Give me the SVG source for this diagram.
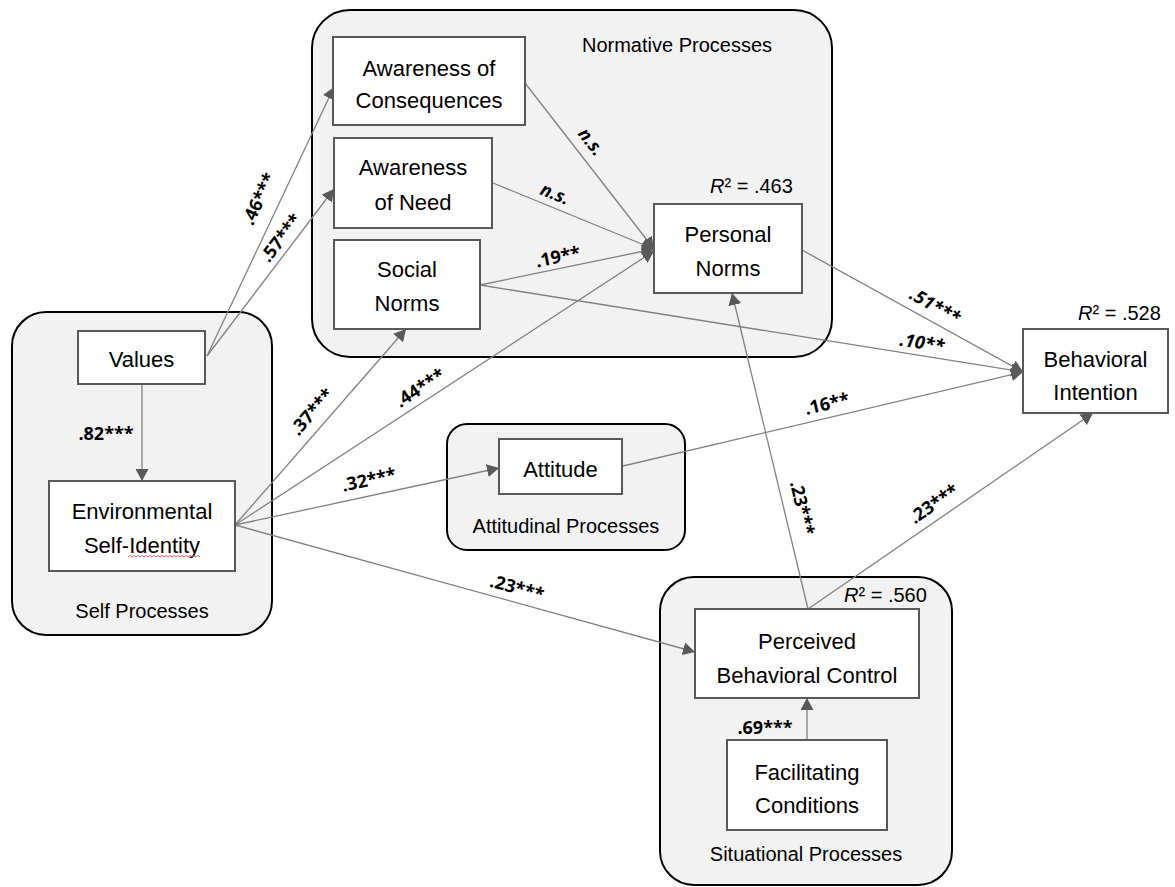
<svg xmlns="http://www.w3.org/2000/svg" width="1175" height="887" viewBox="0 0 1175 887">
<defs>
<marker id="ah" markerUnits="userSpaceOnUse" markerWidth="13" markerHeight="13" refX="12" refY="6.5" orient="auto">
<path d="M0,0 L12,6.5 L0,13 z" fill="#595959"/>
</marker>
<style>
.grp{fill:#f2f2f2;stroke:#000;stroke-width:2}
.node{fill:#fff;stroke:#595959;stroke-width:2}
.nt{font-family:"Liberation Sans",Arial,sans-serif;font-size:22px;fill:#000;text-anchor:middle}
.gt{font-family:"Liberation Sans",Arial,sans-serif;font-size:20px;fill:#000;text-anchor:middle}
.r2{font-family:"Liberation Sans",Arial,sans-serif;font-size:20px;fill:#000}
.cn{fill:none;stroke:#808080;stroke-width:1.3;marker-end:url(#ah)}
.lb{font-family:"Open Sans","Liberation Sans",sans-serif;font-size:18px;font-weight:bold;fill:#000;text-anchor:middle}
.it{font-style:italic}
</style>
</defs>
<rect width="1175" height="887" fill="#fff"/>

<g id="group-normative">
<rect class="grp" x="312" y="10" width="520" height="347" rx="38"/>
<text class="gt" x="677" y="52">Normative Processes</text>
</g>
<g id="group-self">
<rect class="grp" x="12" y="312" width="260" height="323" rx="34"/>
<text class="gt" x="142" y="618">Self Processes</text>
</g>
<g id="group-attitudinal">
<rect class="grp" x="447" y="424" width="238" height="126" rx="20"/>
<text class="gt" x="566" y="533">Attitudinal Processes</text>
</g>
<g id="group-situational">
<rect class="grp" x="660" y="577" width="292" height="308" rx="34"/>
<text class="gt" x="806" y="861">Situational Processes</text>
</g>

<g id="connectors">
<path class="cn" d="M207,356 L334,87"/>
<path class="cn" d="M207,356 L334,189"/>
<path class="cn" d="M142,384 L142,481"/>
<path class="cn" d="M525,83 L654,249"/>
<path class="cn" d="M493,183 L654,249"/>
<path class="cn" d="M480,285 L654,249"/>
<path class="cn" d="M480,285 L1023,372"/>
<path class="cn" d="M802,250 L1023,372"/>
<path class="cn" d="M623,466 L1023,372"/>
<path class="cn" d="M235,525 L406,329"/>
<path class="cn" d="M235,525 L654,251"/>
<path class="cn" d="M235,525 L499,468"/>
<path class="cn" d="M235,525 L695,652"/>
<path class="cn" d="M808,609 L732,293"/>
<path class="cn" d="M808,609 L1093,413"/>
<path class="cn" d="M807,740 L807,698"/>
</g>

<g id="node-aoc">
<rect class="node" x="333" y="37" width="192" height="88"/>
<text class="nt"><tspan x="429" y="76">Awareness of</tspan><tspan x="429" y="108">Consequences</tspan></text>
</g>
<g id="node-aon">
<rect class="node" x="334" y="138" width="158" height="90"/>
<text class="nt"><tspan x="413" y="175">Awareness</tspan><tspan x="413" y="210">of Need</tspan></text>
</g>
<g id="node-sn">
<rect class="node" x="334" y="240" width="146" height="89"/>
<text class="nt"><tspan x="407" y="277">Social</tspan><tspan x="407" y="311">Norms</tspan></text>
</g>
<g id="node-pn">
<rect class="node" x="654" y="204" width="148" height="89"/>
<text class="nt"><tspan x="728" y="242">Personal</tspan><tspan x="728" y="276">Norms</tspan></text>
</g>
<g id="node-bi">
<rect class="node" x="1023" y="329" width="145" height="84"/>
<text class="nt"><tspan x="1095.5" y="367">Behavioral</tspan><tspan x="1095.5" y="400">Intention</tspan></text>
</g>
<g id="node-values">
<rect class="node" x="78" y="331" width="127" height="53"/>
<text class="nt" x="141.5" y="367">Values</text>
</g>
<g id="node-esi">
<rect class="node" x="49" y="481" width="186" height="90"/>
<text class="nt"><tspan x="142" y="519">Environmental</tspan><tspan x="142" y="553">Self-Identity</tspan></text>
<path d="M128,557 l2,-1.5 l2,1.5 l2,-1.5 l2,1.5 l2,-1.5 l2,1.5 l2,-1.5 l2,1.5 l2,-1.5 l2,1.5 l2,-1.5 l2,1.5 l2,-1.5 l2,1.5 l2,-1.5 l2,1.5 l2,-1.5 l2,1.5 l2,-1.5 l2,1.5 l2,-1.5 l2,1.5 l2,-1.5 l2,1.5 l2,-1.5 l2,1.5 l2,-1.5 l2,1.5 l2,-1.5 l2,1.5 l2,-1.5 l2,1.5 l2,-1.5 l2,1.5 l2,-1.5 l2,1.5" fill="none" stroke="#e05050" stroke-width="0.9"/>
</g>
<g id="node-attitude">
<rect class="node" x="499" y="439" width="123" height="55"/>
<text class="nt" x="560.5" y="477">Attitude</text>
</g>
<g id="node-pbc">
<rect class="node" x="695" y="609" width="224" height="89"/>
<text class="nt"><tspan x="807" y="649">Perceived</tspan><tspan x="807" y="683">Behavioral Control</tspan></text>
</g>
<g id="node-fc">
<rect class="node" x="727" y="740" width="160" height="90"/>
<text class="nt"><tspan x="807" y="780">Facilitating</tspan><tspan x="807" y="813">Conditions</tspan></text>
</g>

<g id="r2-labels">
<text class="r2" x="710" y="193"><tspan class="it">R</tspan>² = .463</text>
<text class="r2" x="1078" y="320"><tspan class="it">R</tspan>² = .528</text>
<text class="r2" x="844" y="602"><tspan class="it">R</tspan>² = .560</text>
</g>

<g id="path-labels">
<text class="lb" transform="translate(259,199) rotate(-64.7)" y="6">.46***</text>
<text class="lb" transform="translate(281,238) rotate(-52.7)" y="6">.57***</text>
<text class="lb" x="106" y="440">.82***</text>
<text class="lb it" transform="translate(591,142) rotate(52.2)" y="6">n.s.</text>
<text class="lb it" transform="translate(555,194) rotate(22.3)" y="6">n.s.</text>
<text class="lb" transform="translate(558,257) rotate(-11.7)" y="6">.19**</text>
<text class="lb it" transform="translate(935,306) rotate(28.9)" y="6">.51***</text>
<text class="lb it" transform="translate(922,343) rotate(9)" y="6">.10**</text>
<text class="lb" transform="translate(827,404) rotate(-13.2)" y="6">.16**</text>
<text class="lb" transform="translate(312,412) rotate(-48.9)" y="6">.37***</text>
<text class="lb" transform="translate(420,388) rotate(-33.4)" y="6">.44***</text>
<text class="lb" transform="translate(369,480) rotate(-12.2)" y="6">.32***</text>
<text class="lb" transform="translate(517,588) rotate(15.4)" y="6">.23***</text>
<text class="lb" transform="translate(802,508) rotate(76.4)" y="6">.23***</text>
<text class="lb" transform="translate(934,504) rotate(-34.4)" y="6">.23***</text>
<text class="lb" x="765" y="734">.69***</text>
</g>
</svg>
